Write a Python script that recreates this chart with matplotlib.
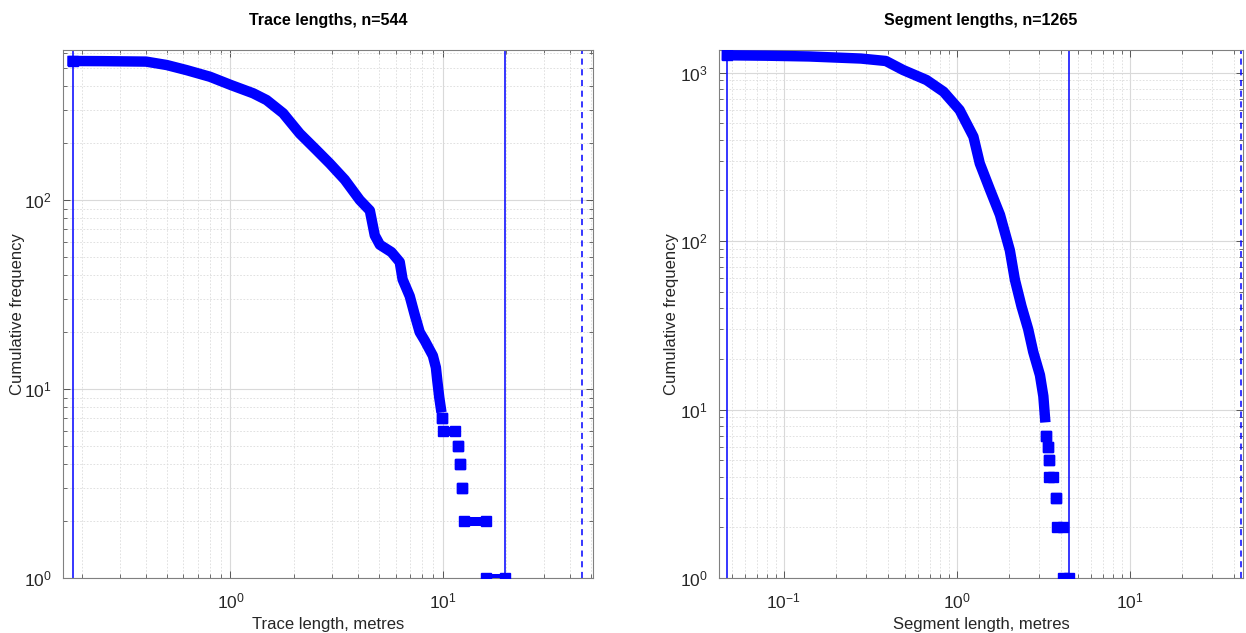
import numpy as np
import matplotlib
matplotlib.use('Agg')
import matplotlib.pyplot as plt
from matplotlib.ticker import LogLocator, NullFormatter

plt.rcParams['font.family'] = ['Liberation Sans', 'DejaVu Sans']
plt.rcParams['mathtext.fontset'] = 'custom'
plt.rcParams['mathtext.rm'] = 'Liberation Sans'

# ==================== data ====================
# trace lengths (m) vs number of traces >= length, continuous part
trace_len = [0.18, 0.25, 0.40, 0.50, 0.62, 0.80, 1.01, 1.28, 1.48, 1.77, 2.12,
             2.54, 2.94, 3.46, 4.07, 4.54, 4.79, 5.06, 5.74, 6.28, 6.48, 7.0,
             7.37, 7.8, 8.25, 9.0, 9.3, 9.45, 9.65, 9.8]
trace_cum = [544, 543, 540, 518, 487, 449, 405, 367, 338, 288, 225,
             184, 156, 128, 100, 88, 65, 58, 53, 47, 38, 31,
             25, 20, 18, 15, 13, 11, 9, 8]
# tail: (start length, end length, count)
trace_tail_start = [9.95, 10.1, 11.8, 12.1, 12.4, 12.6, 16.0]
trace_tail_end = [9.95, 11.5, 11.8, 12.1, 12.4, 16.0, 19.7]
trace_tail_cum = [7, 6, 5, 4, 3, 2, 1]
trace_limits = [0.18, 19.7]
trace_dashed = 45.5

seg_len = [0.047, 0.08, 0.14, 0.28, 0.39, 0.49, 0.67, 0.84, 1.04, 1.25, 1.36,
           1.56, 1.78, 2.03, 2.17, 2.37, 2.59, 2.77, 3.03, 3.17, 3.24]
seg_cum = [1265, 1258, 1245, 1210, 1170, 1035, 902, 769, 599, 416, 289,
           201, 143, 88, 59, 41, 30, 22, 16, 12, 9]
seg_tail_start = [3.28, 3.36, 3.40, 3.42, 3.74, 3.80, 4.10]
seg_tail_end = [3.28, 3.36, 3.40, 3.60, 3.74, 4.10, 4.46]
seg_tail_cum = [7, 6, 5, 4, 3, 2, 1]
seg_limits = [0.047, 4.46]
seg_dashed = 44.0

BLUE = (0, 0, 1)
TXT = '#262626'


def draw_panel(ax, lengths, cum, t_start, t_end, t_cum, limits, dashed,
               xlim, ylim, title, xlabel, ylab_x):
    ax.set_xscale('log')
    ax.set_yscale('log')
    # dense square markers merge into a thick band
    ax.plot(lengths, cum, '-', color=BLUE, lw=7.5,
            solid_joinstyle='round', solid_capstyle='projecting', zorder=3)
    ax.plot(lengths[:1], cum[:1], 's', color=BLUE, ms=6.5, zorder=3)
    for xs, xe, c in zip(t_start, t_end, t_cum):
        ax.plot([xs, xe], [c, c], '-s', color=BLUE, lw=6.5, ms=6.5,
                solid_capstyle='butt', zorder=3)
    for v in limits:
        ax.axvline(v, color=BLUE, lw=1.1, zorder=2)
    ax.axvline(dashed, color=BLUE, lw=1.1, ls=(0, (4, 3)), zorder=2)

    ax.set_xlim(*xlim)
    ax.set_ylim(*ylim)
    ax.xaxis.set_major_locator(LogLocator(base=10, numticks=10))
    ax.xaxis.set_minor_locator(LogLocator(base=10, subs=np.arange(2, 10), numticks=20))
    ax.yaxis.set_major_locator(LogLocator(base=10, numticks=10))
    ax.yaxis.set_minor_locator(LogLocator(base=10, subs=np.arange(2, 10), numticks=20))
    ax.xaxis.set_minor_formatter(NullFormatter())
    ax.yaxis.set_minor_formatter(NullFormatter())

    ax.grid(which='major', color='#d9d9d9', lw=0.8, ls='-')
    ax.grid(which='minor', color='#dcdcdc', lw=0.6, ls=(0, (2, 2)))
    ax.set_axisbelow(True)
    ax.tick_params(which='both', direction='in', top=True, right=True,
                   colors='#555555', labelcolor=TXT, labelsize=12.5)
    ax.tick_params(which='major', length=5, width=0.7)
    ax.tick_params(which='minor', length=3, width=0.6)
    ax.tick_params(axis='x', which='major', pad=10)
    ax.tick_params(axis='y', which='major', pad=8)
    for s in ax.spines.values():
        s.set_color('#808080')
        s.set_linewidth(0.8)

    ax.set_title(title, fontsize=11.5, fontweight='bold', color='black', pad=18)
    ax.set_xlabel(xlabel, fontsize=12, color=TXT, labelpad=4)
    ax.set_ylabel('Cumulative frequency', fontsize=12, color=TXT)
    ax.yaxis.set_label_coords(ylab_x, 0.5)


fig = plt.figure(figsize=(12.46, 6.33), dpi=100)
ax1 = fig.add_axes([63 / 1246, 55 / 633, 530 / 1246, 528 / 633])
ax2 = fig.add_axes([719 / 1246, 55 / 633, 524 / 1246, 528 / 633])

draw_panel(ax1, trace_len, trace_cum, trace_tail_start, trace_tail_end,
           trace_tail_cum, trace_limits, trace_dashed,
           (0.1623, 51.2), (1, 622), 'Trace lengths, n=544', 'Trace length, metres',
           -0.072)
draw_panel(ax2, seg_len, seg_cum, seg_tail_start, seg_tail_end,
           seg_tail_cum, seg_limits, seg_dashed,
           (0.0423, 45.2), (1, 1360), 'Segment lengths, n=1265', 'Segment length, metres',
           -0.076)

fig.savefig('out.png', dpi=100)
